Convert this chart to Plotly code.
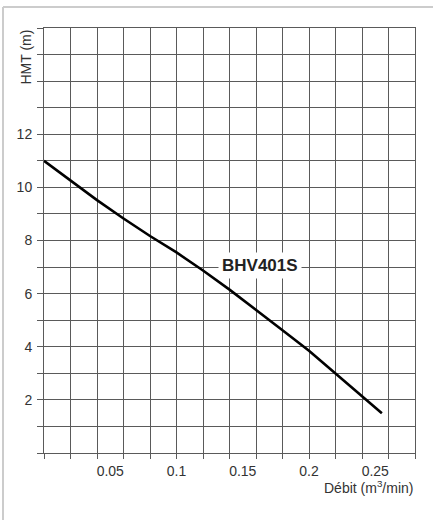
import plotly.graph_objects as go

# Data
flow = [0.0, 0.02, 0.04, 0.06, 0.08, 0.10, 0.12, 0.14, 0.16, 0.18, 0.20, 0.22, 0.24, 0.255]
head = [11.0, 10.26, 9.52, 8.83, 8.17, 7.55, 6.87, 6.15, 5.4, 4.62, 3.85, 3.0, 2.15, 1.5]
x_tick_vals = [0.05, 0.1, 0.15, 0.2, 0.25]
x_tick_text = ["0.05", "0.1", "0.15", "0.2", "0.25"]
y_tick_vals = [2, 4, 6, 8, 10, 12]
y_tick_text = ["2", "4", "6", "8", "10", "12"]
series_name = "BHV401S"
x_title = "Débit (m<sup>3</sup>/min)"
y_title = "HMT (m)"

W, H = 433, 520
L, R, T, B = 44, 18, 28, 67
pw, ph = W - L - R, H - T - B

def px_x(p):
    return (p - L) / pw

def px_y(p):
    return (H - B - p) / ph

grid = "#5a5a5a"
font = "Liberation Sans, Arial, sans-serif"

fig = go.Figure()
fig.add_trace(go.Scatter(x=flow, y=head, mode="lines",
                         line=dict(color="black", width=2.6),
                         showlegend=False, hoverinfo="skip"))

fig.update_layout(
    width=W, height=H,
    margin=dict(l=L, r=R, t=T, b=B),
    paper_bgcolor="white", plot_bgcolor="white",
    font=dict(family=font, size=14, color="#333333"),
    xaxis=dict(range=[0, 0.28], tickvals=x_tick_vals, ticktext=x_tick_text,
               showgrid=False, ticks="outside", ticklen=5,
               tickcolor="rgba(0,0,0,0)", zeroline=False,
               showline=True, linecolor=grid, linewidth=1, mirror=True,
               minor=dict(dtick=0.02, tick0=0, showgrid=True, gridcolor=grid,
                          gridwidth=1, ticks="outside", ticklen=5,
                          tickcolor=grid, tickwidth=1),
               tickfont=dict(size=14, color="#333333")),
    yaxis=dict(range=[0, 16], tickvals=y_tick_vals, ticktext=y_tick_text,
               showgrid=False, ticks="outside", ticklen=8,
               tickcolor="rgba(0,0,0,0)", zeroline=False,
               showline=True, linecolor=grid, linewidth=1, mirror=True,
               minor=dict(dtick=1, tick0=0, showgrid=True, gridcolor=grid,
                          gridwidth=1, ticks="outside", ticklen=6,
                          tickcolor=grid, tickwidth=1),
               tickfont=dict(size=14, color="#333333")),
)

fig.add_annotation(x=0.163, y=7.07, xref="x", yref="y", text="<b>" + series_name + "</b>",
                   showarrow=False, font=dict(family=font, size=17, color="#222222"),
                   bgcolor="white", borderpad=3)

fig.add_annotation(x=1.0, y=px_y(487), xref="paper", yref="paper", text=x_title,
                   showarrow=False, xanchor="right", yanchor="middle",
                   font=dict(family=font, size=14, color="#333333"))

fig.add_annotation(x=px_x(25), y=1.0, xref="paper", yref="paper", text=y_title,
                   showarrow=False, textangle=-90, xanchor="center", yanchor="top",
                   font=dict(family=font, size=14, color="#333333"))

# light outer frame (top and left edges)
frame = "#cccccc"
fig.add_shape(type="line", xref="paper", yref="paper",
              x0=px_x(3), x1=px_x(433), y0=px_y(7), y1=px_y(7),
              line=dict(color=frame, width=2))
fig.add_shape(type="line", xref="paper", yref="paper",
              x0=px_x(3), x1=px_x(3), y0=px_y(7), y1=px_y(520),
              line=dict(color=frame, width=2))

fig.write_html("out.html", config={"displayModeBar": False},
               post_script="document.body.style.margin='0';")
